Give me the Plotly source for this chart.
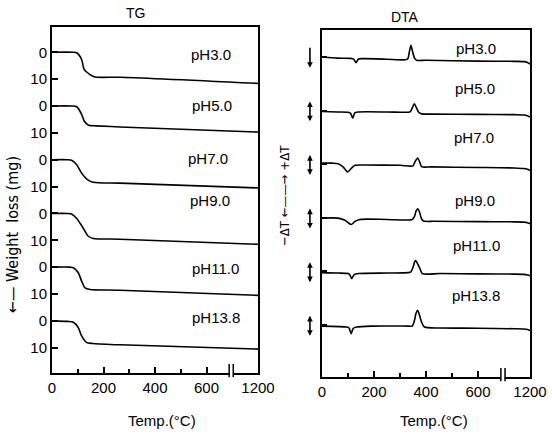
import plotly.graph_objects as go

# ---- data ----
ph_labels = ["pH3.0", "pH5.0", "pH7.0", "pH9.0", "pH11.0", "pH13.8"]

# TG: weight loss (mg) vs temperature (C), one list pair per sample
tg_t_ph30 = [0, 80, 96, 115, 125, 148, 167, 264, 1200]
tg_w_ph30 = [0, 0, 0.2, 2.7, 6.4, 8.3, 9.2, 9.3, 11.6]
tg_t_ph50 = [0, 76, 96, 115, 125, 142, 171, 264, 1200]
tg_w_ph50 = [0, 0, 0.3, 3.1, 5.6, 7.2, 7.4, 7.8, 9.7]
tg_t_ph70 = [0, 60, 76, 96, 115, 135, 160, 264, 1200]
tg_w_ph70 = [0, 0, 0.2, 1.9, 5.0, 7.2, 8.4, 8.7, 10.5]
tg_t_ph90 = [0, 60, 76, 96, 122, 141, 160, 264, 1200]
tg_w_ph90 = [0, 0, 0.2, 1.9, 5.6, 8.5, 9.3, 9.6, 11.5]
tg_t_ph110 = [0, 70, 83, 102, 115, 128, 148, 264, 1200]
tg_w_ph110 = [0, 0, 0.2, 2.1, 5.2, 7.7, 8.3, 8.6, 10.5]
tg_t_ph138 = [0, 60, 83, 102, 115, 135, 160, 264, 1200]
tg_w_ph138 = [0, 0.2, 0.5, 2.5, 5.6, 8.1, 8.4, 8.9, 10.5]

# DTA: deflection (arbitrary units, + = exo) vs temperature (C)
dta_t_ph30 = [0, 60, 110, 122, 131, 140, 160, 250, 320, 330, 336, 342, 348, 356, 364, 400, 600, 900, 1080, 1150, 1200]
dta_v_ph30 = [0, -0.4, -0.5, -0.8, -2.1, -0.7, -0.6, -0.8, -1.0, -0.6, 2.0, 4.4, 2.2, -0.4, -1.2, -1.2, -1.5, -1.6, -1.7, -2.0, -2.6]
dta_t_ph50 = [0, 60, 100, 110, 118, 126, 140, 250, 330, 340, 348, 355, 362, 372, 383, 420, 600, 900, 1080, 1150, 1200]
dta_v_ph50 = [-0.3, -0.5, -0.6, -1.0, -2.8, -0.8, -0.5, -0.5, -0.6, -0.4, 1.2, 2.6, 1.3, -0.6, -1.2, -1.3, -1.4, -1.5, -1.6, -1.9, -2.4]
dta_t_ph70 = [0, 40, 62, 81, 99, 112, 127, 170, 300, 350, 358, 368, 376, 383, 420, 600, 900, 1080, 1150, 1200]
dta_v_ph70 = [0.45, 0.4, 0.2, -1.0, -2.9, -1.6, -0.4, -0.3, -0.4, -0.6, 1.0, 2.3, 0.8, -0.9, -1.0, -1.2, -1.4, -1.6, -1.9, -2.3]
dta_t_ph90 = [0, 60, 88, 112, 127, 146, 250, 347, 356, 362, 368, 375, 382, 390, 430, 600, 900, 1080, 1150, 1200]
dta_v_ph90 = [-0.1, -0.1, -0.9, -2.5, -1.3, -0.6, -0.6, -0.6, 0.6, 2.6, 3.4, 2.2, -0.2, -1.2, -1.3, -1.4, -1.5, -1.6, -1.8, -2.2]
dta_t_ph110 = [0, 60, 101, 108, 114, 124, 140, 250, 333, 342, 350, 356, 360, 366, 377, 386, 454, 600, 900, 1080, 1150, 1200]
dta_v_ph110 = [-0.45, -0.6, -0.8, -1.4, -2.7, -1.2, -0.8, -0.6, -0.45, -0.2, 1.5, 3.5, 4.1, 3.2, 1.0, -0.8, -0.8, -0.9, -1.0, -1.1, -1.3, -1.6]
dta_t_ph138 = [0, 95, 104, 112, 120, 133, 191, 333, 347, 355, 362, 368, 374, 383, 394, 454, 600, 900, 1080, 1150, 1200]
dta_v_ph138 = [-0.4, -0.75, -1.1, -3.2, -1.3, -0.75, -0.4, -0.4, -0.4, 1.5, 4.5, 5.5, 4.0, 1.1, -0.75, -1.1, -1.2, -1.4, -1.5, -1.7, -2.1]

x_tick_temps = [0, 200, 400, 600, 1200]
tg_tick_text = ["0", "10"]

tg_sets = [(tg_t_ph30, tg_w_ph30), (tg_t_ph50, tg_w_ph50), (tg_t_ph70, tg_w_ph70),
           (tg_t_ph90, tg_w_ph90), (tg_t_ph110, tg_w_ph110), (tg_t_ph138, tg_w_ph138)]
dta_sets = [(dta_t_ph30, dta_v_ph30), (dta_t_ph50, dta_v_ph50), (dta_t_ph70, dta_v_ph70),
            (dta_t_ph90, dta_v_ph90), (dta_t_ph110, dta_v_ph110), (dta_t_ph138, dta_v_ph138)]

STEP = 20  # vertical offset between stacked curves


def disp(t):
    # broken axis: 700-1200 C squeezed into 100 units
    return t if t <= 700 else 700 + (t - 700) / 5


W, H = 552, 441
FONT = "Liberation Sans Narrow, Liberation Sans, Arial, sans-serif"

fig = go.Figure()

for i, (t, w) in enumerate(tg_sets):
    fig.add_trace(go.Scatter(x=[disp(v) for v in t], y=[v + i * STEP for v in w],
                             mode="lines", line=dict(color="black", width=1.6, shape="spline", smoothing=0.7),
                             xaxis="x", yaxis="y", showlegend=False))

for i, (t, d) in enumerate(dta_sets):
    fig.add_trace(go.Scatter(x=[disp(v) for v in t], y=[v - i * STEP for v in d],
                             mode="lines", line=dict(color="black", width=1.6, shape="spline", smoothing=0.7),
                             xaxis="x2", yaxis="y2", showlegend=False))

axis_style = dict(showgrid=False, zeroline=False, showline=True, mirror=True,
                  linecolor="black", linewidth=2, ticks="inside", tickcolor="black",
                  tickwidth=1.5, ticklen=6, tickfont=dict(size=15, color="black"),
                  automargin=False)
xtick = dict(tickmode="array", tickvals=[disp(t) for t in x_tick_temps],
             ticktext=[str(t) for t in x_tick_temps], range=[0, 800],
             ticklabeloverflow="allow",
             minor=dict(tickmode="array", tickvals=[100, 300, 500], ticks="inside",
                        ticklen=4, tickcolor="black", tickwidth=1.5))

n = len(tg_sets)
fig.update_layout(
    width=W, height=H, margin=dict(l=0, r=0, t=0, b=0),
    paper_bgcolor="white", plot_bgcolor="white",
    font=dict(family=FONT, color="black"),
    xaxis=dict(axis_style, **xtick, domain=[52 / W, 258 / W], anchor="y"),
    yaxis=dict(axis_style, domain=[(H - 373) / H, (H - 27) / H], anchor="x",
               range=[119.4, -9.4], tickmode="array",
               tickvals=[k * 10 for k in range(2 * n)],
               ticktext=[tg_tick_text[k % 2] for k in range(2 * n)]),
    xaxis2=dict(axis_style, **xtick, domain=[322 / W, 530 / W], anchor="y2"),
    yaxis2=dict(axis_style, domain=[(H - 377) / H, (H - 30) / H], anchor="x2",
                range=[-119.4, 10.1], tickmode="array",
                tickvals=[-k * STEP for k in range(n)], showticklabels=False, ticklen=5),
)

# axis breaks between 600 and 1200
for xr, yr in [("x", "y domain"), ("x2", "y2 domain")]:
    fig.add_shape(type="line", xref=xr, yref=yr, x0=688, x1=704, y0=0, y1=0,
                  line=dict(color="white", width=4))
    for xb in (688, 704):
        fig.add_shape(type="line", xref=xr, yref=yr, x0=xb, x1=xb, y0=-0.012, y1=0.026,
                      line=dict(color="black", width=1.5))

# DTA scale bars
for i in range(n):
    base = -i * STEP
    fig.add_annotation(xref="x2 domain", yref="y2", axref="x2 domain", ayref="y2",
                       x=-0.058, y=base - 4, ax=-0.058, ay=base + 4, text="",
                       showarrow=True, arrowhead=2, arrowside="end" if i == 0 else "end+start",
                       arrowsize=0.7, arrowwidth=1.6, arrowcolor="black")


def txt(s, px, py, size=15, angle=0, family=None):
    f = dict(size=size, color="black")
    if family:
        f["family"] = family
    fig.add_annotation(xref="paper", yref="paper", x=px / W, y=1 - py / H, text=s,
                       showarrow=False, textangle=angle, font=f,
                       xanchor="center", yanchor="middle")


tg_label_pos = [(211, 55), (212, 105), (208, 158), (210, 200), (215, 268), (216, 317)]
dta_label_pos = [(476, 48), (475, 89), (474, 137), (475, 200), (476, 245), (476, 295)]
for lab, (px, py) in zip(ph_labels, tg_label_pos):
    txt(lab, px, py)
for lab, (px, py) in zip(ph_labels, dta_label_pos):
    txt(lab, px, py)

txt("TG", 135, 13, 14)
txt("DTA", 405, 17, 14)
txt("Temp.(°C)", 162, 420, 15)
txt("Temp.(°C)", 434, 420, 15)
txt("←— Weight  loss (mg)", 13, 235, 16, -90, "DejaVu Sans Condensed, DejaVu Sans")
txt("−ΔT ←——→ +ΔT", 284, 196, 13, -90, "DejaVu Sans Condensed, DejaVu Sans")

# the page's default body margin would shift the figure by 8px
fig.write_html("out.html", config={"displayModeBar": False},
               post_script="document.body.style.margin='0';")
